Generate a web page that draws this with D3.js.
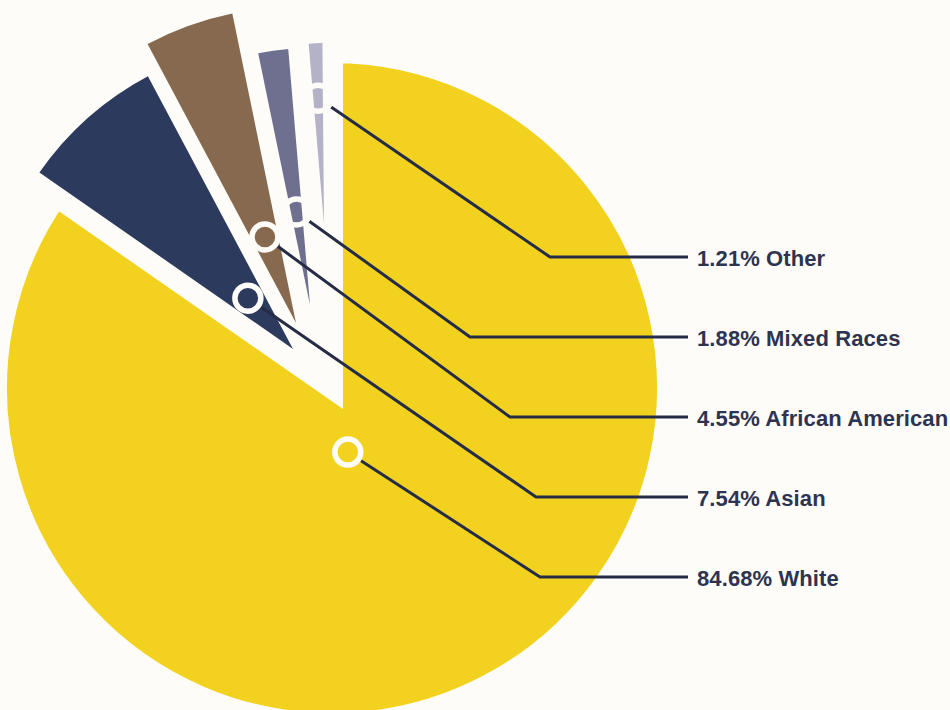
<!DOCTYPE html>
<html>
<head>
<meta charset="utf-8">
<script src="https://cdn.jsdelivr.net/npm/d3@7"></script>
<style>
  html, body { margin: 0; padding: 0; background: #fdfcf8; }
  svg { display: block; }
</style>
</head>
<body>
<svg id="chart" width="950" height="710"></svg>
<script>
// ---- data ----
const categories = ["White", "Asian", "African American", "Mixed Races", "Other"];
const values = [84.68, 7.54, 4.55, 1.88, 1.21];
const labels = ["84.68% White", "7.54% Asian", "4.55% African American", "1.88% Mixed Races", "1.21% Other"];
const labelOrder = ["Other", "Mixed Races", "African American", "Asian", "White"]; // top to bottom

// ---- layout / style ----
const W = 950, H = 710;
const bg = "#fdfcf8";
const colors = ["#f2d21f", "#2c3a5d", "#86694f", "#6f6f8f", "#b4b2c7"];
const center = [332, 388];
const gap = 22;                                   // white separator width around the big slice
const radii = [325 + gap / 2, 309, 316, 257, 181];
const explode = [[0, 0], [-39, -39], [-36, -65], [-22, -83], [-8, -164]];
const markerFrac = [0.545, 0.5, 0.5, 0.5, 0.5];   // position of marker within slice angle
const markerDist = [66, 68, 91.5, 94, 126];       // distance of marker from slice apex
const elbowX = [540, 536, 510, 470, 550];
const lineEndX = 688, labelX = 697;
const ringR = 13, ringW = 5.5;
const inkColor = "#252c45", textColor = "#2d3450";

const svg = d3.select("#chart");
svg.append("rect").attr("width", W).attr("height", H).attr("fill", bg);

const total = d3.sum(values);
const pie = d3.pie().sort(null).value(d => d).startAngle(0).endAngle(2 * Math.PI * total / 100);
const arcs = pie(values);

const g = svg.append("g").attr("transform", `translate(${center[0]},${center[1]})`);

// slices
arcs.forEach((a, i) => {
  const arc = d3.arc().innerRadius(0).outerRadius(radii[i]);
  const p = g.append("path")
    .attr("d", arc(a))
    .attr("transform", `translate(${explode[i][0]},${explode[i][1]})`)
    .attr("fill", colors[i]);
  if (i === 0) {
    p.attr("stroke", bg).attr("stroke-width", gap)
     .attr("stroke-linejoin", "miter").attr("stroke-miterlimit", 10);
  }
});

// label y positions
const yScale = d3.scalePoint().domain(labelOrder).range([257, 577]);

// markers and leaders
arcs.forEach((a, i) => {
  const ang = a.startAngle + markerFrac[i] * (a.endAngle - a.startAngle);
  const mx = center[0] + explode[i][0] + markerDist[i] * Math.sin(ang);
  const my = center[1] + explode[i][1] - markerDist[i] * Math.cos(ang);
  const ly = yScale(categories[i]);
  const ex = elbowX[i];
  const dx = ex - mx, dy = ly - my, len = Math.hypot(dx, dy);
  const s = ringR + ringW / 2;
  const sx = mx + dx / len * s, sy = my + dy / len * s;

  svg.append("path")
    .attr("d", d3.line()([[sx, sy], [ex, ly], [lineEndX, ly]]))
    .attr("fill", "none")
    .attr("stroke", inkColor)
    .attr("stroke-width", 3)
    .attr("stroke-linejoin", "round");

  svg.append("circle")
    .attr("cx", mx).attr("cy", my).attr("r", ringR)
    .attr("fill", "none")
    .attr("stroke", bg)
    .attr("stroke-width", ringW);

  svg.append("text")
    .attr("x", labelX).attr("y", ly + 8.5)
    .attr("font-family", "'Liberation Sans', Arial, Helvetica, sans-serif")
    .attr("font-weight", "bold")
    .attr("font-size", "22px")
    .attr("letter-spacing", "0.1px")
    .attr("fill", textColor)
    .text(labels[i]);
});
</script>
</body>
</html>
